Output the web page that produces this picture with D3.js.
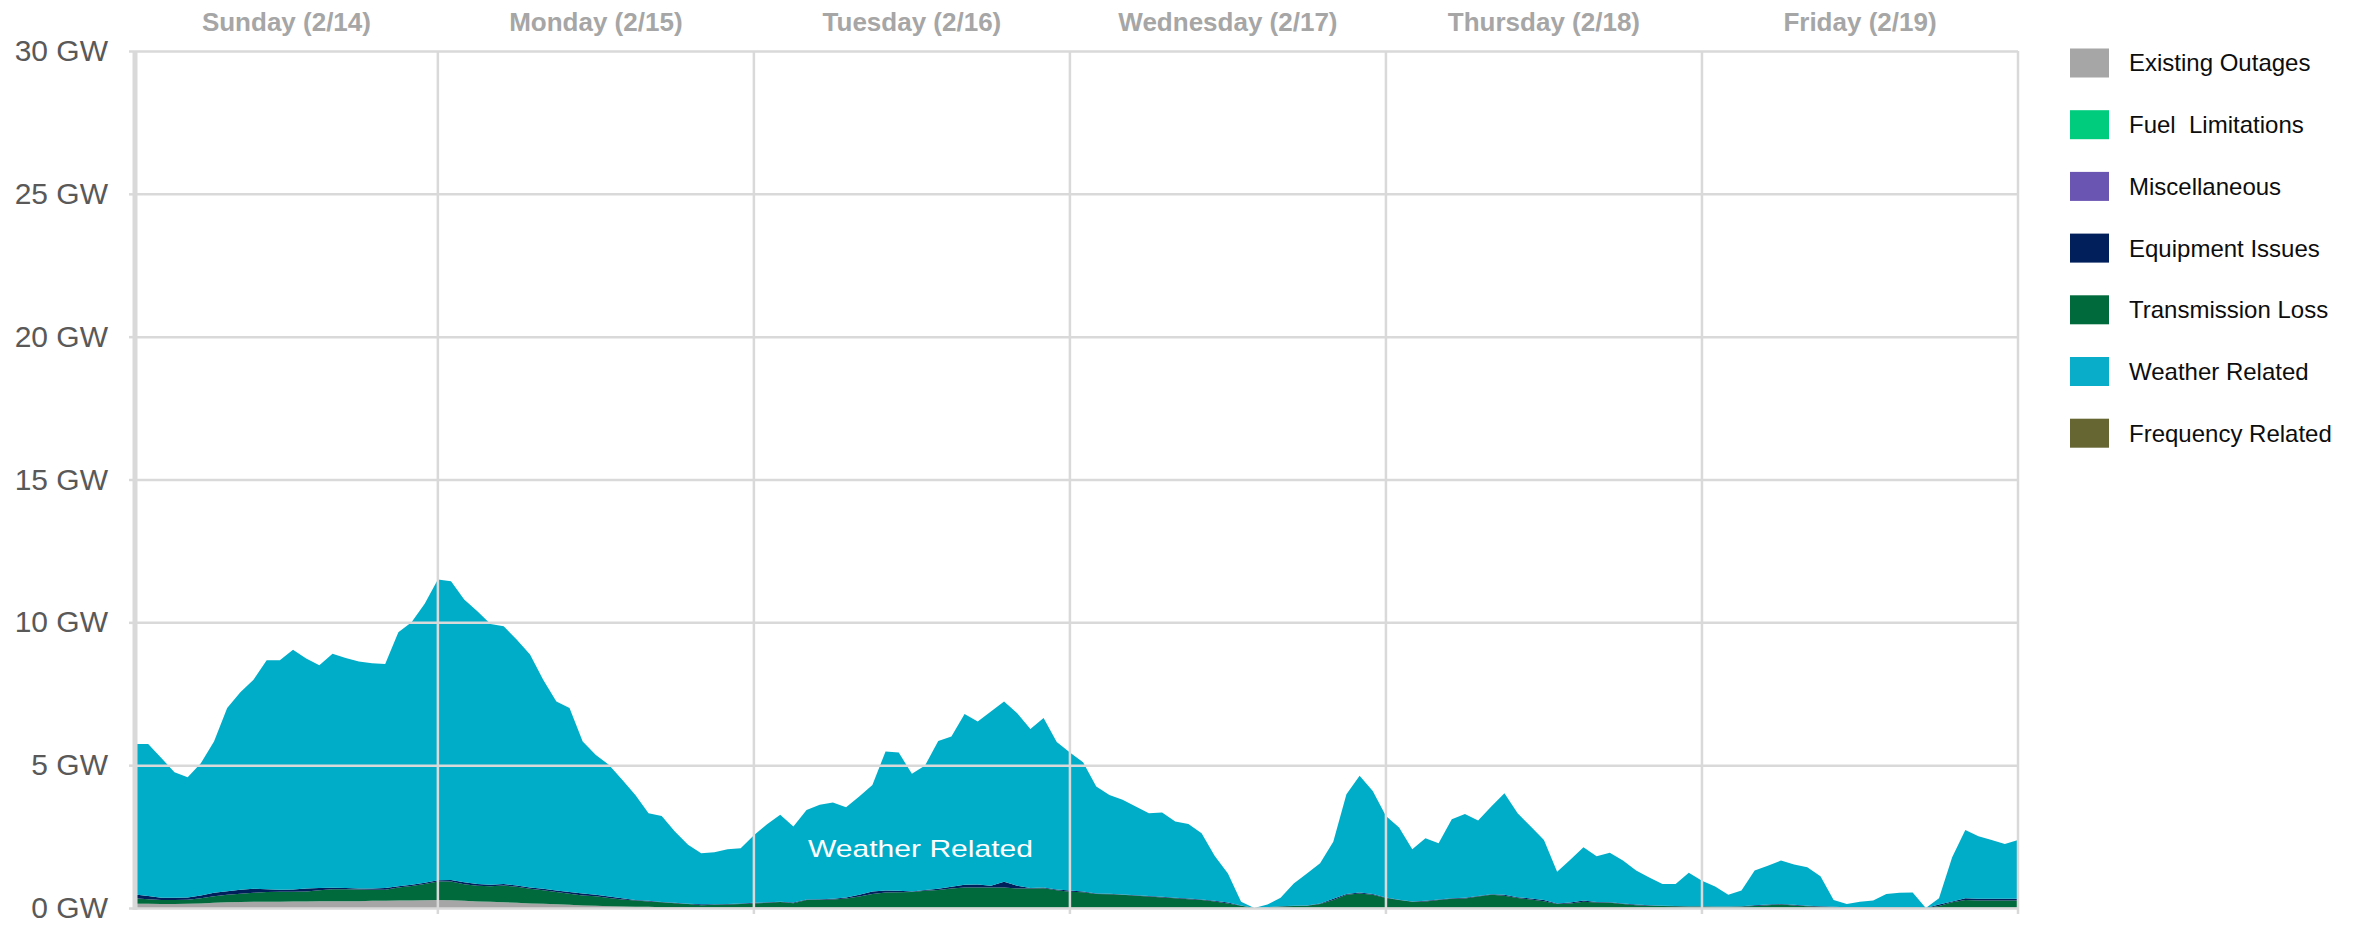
<!DOCTYPE html>
<html>
<head>
<meta charset="utf-8">
<script src="https://cdn.jsdelivr.net/npm/d3@7"></script>
<style>
  html, body { margin: 0; padding: 0; background: #fff; }
  svg { display: block; font-family: "Liberation Sans", Arial, sans-serif; }
</style>
</head>
<body>
<svg id="chart" width="2358" height="925"></svg>
<script>
// ---------- DATA ----------
// hourly samples, hour 1 .. 144 (Sun 2/14 -> Fri 2/19)
const hourIndex = d3.range(1, 145);

const dayLabels = ["Sunday (2/14)", "Monday (2/15)", "Tuesday (2/16)", "Wednesday (2/17)", "Thursday (2/18)", "Friday (2/19)"];
const dayBoundaries = [1, 24, 48, 72, 96, 120, 144];

const yTicks = [0, 5, 10, 15, 20, 25, 30];

const legendNames = ["Existing Outages", "Fuel  Limitations", "Miscellaneous", "Equipment Issues", "Transmission Loss", "Weather Related", "Frequency Related"];
const legendColors = ["#a6a6a6", "#00cc7d", "#6a55b2", "#001f5b", "#006a3d", "#0aadc9", "#666633"];

// GW
const existingOutages = [
  .15,.15,.14,.14,.15,.16,.18,.20,.21,.22,
  .22,.22,.23,.23,.24,.24,.24,.24,.25,.25,
  .26,.26,.27,.28,.27,.25,.23,.22,.20,.18,
  .16,.15,.13,.11,.09,.08,.06,.05,.04,.04,
  .03,.03,.03,.03,.03,.03,.03,.03,.03,.03,
  .02,.02,.02,.02,.02,.02,.02,.02,.02,.02,
  .02,.02,.02,.02,.02,.02,.02,.02,.02,.02,
  .02,.02,.02,.02,.02,.02,.02,.02,.02,.02,
  .02,.02,.02,.02,.02,0,.02,.02,.02,.02,
  .02,.02,.02,.02,.02,.02,.02,.02,.02,.02,
  .02,.02,.02,.02,.02,.02,.02,.02,.02,.02,
  .02,.02,.02,.02,.02,.02,.02,.02,.02,.02,
  .02,.02,.02,.02,.02,.02,.02,.02,.02,.02,
  .02,.02,.02,.02,.02,.02,0,.02,.02,.02,
  .02,.02,.02,.02
];
const transmissionLoss = [
  .19,.16,.14,.14,.14,.18,.23,.26,.29,.31,
  .34,.35,.34,.35,.38,.42,.42,.41,.39,.39,
  .46,.51,.57,.65,.66,.58,.55,.54,.59,.56,
  .51,.47,.43,.39,.35,.33,.29,.25,.22,.19,
  .17,.14,.11,.07,.08,.09,.11,.13,.15,.18,
  .15,.26,.27,.28,.31,.38,.47,.52,.53,.54,
  .58,.61,.66,.70,.70,.70,.70,.66,.66,.67,
  .60,.55,.53,.47,.46,.44,.41,.38,.35,.32,
  .29,.26,.21,.14,.06,0,0,.03,.05,.06,
  .12,.26,.44,.49,.44,.33,.26,.20,.21,.26,
  .30,.31,.38,.44,.41,.33,.28,.22,.12,.14,
  .20,.17,.16,.12,.08,.06,.05,.04,.03,.03,
  .02,.02,.03,.05,.08,.10,.07,.04,.02,.01,
  0,0,0,0,0,0,0,.05,.18,.26,
  .24,.24,.24,.24
];
const equipmentIssues = [
  .13,.11,.08,.08,.08,.10,.12,.13,.14,.14,
  .10,.07,.08,.10,.08,.05,.04,.03,.04,.06,
  .04,.04,.04,.04,.05,.07,.06,.05,.05,.05,
  .05,.05,.05,.06,.07,.05,.05,.04,.02,.02,
  .01,.01,.01,.03,.02,.02,.02,.02,.02,.01,
  .02,.02,.02,.02,.04,.06,.09,.07,.05,.02,
  .03,.04,.06,.09,.10,.06,.20,.10,.02,.03,
  .03,.04,.03,.02,.02,.01,.02,.02,.02,.02,
  .02,.02,.02,.03,.01,0,.01,.01,.01,.01,
  .02,.04,.03,.03,.03,.02,.01,.01,.02,.02,
  .02,.03,.02,.02,.03,.03,.03,.04,.02,.03,
  .04,.02,.02,.02,.02,.02,.01,.01,.01,.01,
  .01,.01,.01,.03,.02,.02,.02,.02,.02,.01,
  .01,.01,.01,.01,.01,.01,0,.05,.03,.06,
  .06,.06,.06,.06
];
const weatherRelated = [
  5.27,5.32,4.89,4.39,4.21,4.63,5.30,6.41,6.91,7.32,
  8.01,8.03,8.39,8.05,7.80,8.19,8.05,7.95,7.89,7.84,
  8.89,9.19,9.77,10.53,10.46,9.90,9.55,9.13,9.02,8.60,
  8.15,7.32,6.62,6.44,5.32,4.90,4.61,4.15,3.68,3.07,
  3.01,2.50,2.06,1.79,1.82,1.92,1.93,2.37,2.73,3.04,
  2.66,3.13,3.30,3.37,3.16,3.44,3.73,4.87,4.84,4.12,
  4.36,5.18,5.26,5.98,5.71,6.10,6.31,6.04,5.57,5.93,
  5.16,4.83,4.52,3.74,3.46,3.32,3.10,2.90,2.95,2.67,
  2.61,2.32,1.57,1.02,.13,0,.09,.30,.78,1.12,
  1.41,2.00,3.49,4.09,3.61,2.85,2.53,1.83,2.19,1.97,
  2.77,2.93,2.64,3.07,3.56,2.94,2.52,2.10,1.11,1.50,
  1.87,1.60,1.73,1.50,1.19,.97,.76,.77,1.17,.89,
  .70,.41,.55,1.21,1.36,1.52,1.41,1.35,1.05,.24,
  .11,.19,.23,.46,.50,.51,0,.22,1.55,2.39,
  2.19,2.06,1.92,2.06
];

// stacking order bottom -> top
const stackKeys = ["existing", "transmission", "equipment", "weather"];
const stackColors = {existing: "#a6a6a6", transmission: "#006a3d", equipment: "#001f5b", weather: "#00adc8"};

// ---------- BUILD ----------
const rows = hourIndex.map((h, i) => ({
  hour: h,
  existing: existingOutages[i],
  transmission: transmissionLoss[i],
  equipment: equipmentIssues[i],
  weather: weatherRelated[i]
}));

const svg = d3.select("#chart");
const plotLeft = 135, plotRight = 2018, plotTop = 51, plotBottom = 908;

const x = d3.scaleLinear().domain([1, 144]).range([plotLeft, plotRight]);
const y = d3.scaleLinear().domain([0, 30]).range([plotBottom, plotTop]);

const series = d3.stack().keys(stackKeys)(rows);
const area = d3.area()
  .x(d => x(d.data.hour))
  .y0(d => y(d[0]))
  .y1(d => y(d[1]))
  .curve(d3.curveLinear);

svg.append("g").selectAll("path")
  .data(series)
  .join("path")
  .attr("fill", d => stackColors[d.key])
  .attr("d", area);

// horizontal gridlines
const gridColor = "#d9d9d9";
const yGrid = svg.append("g")
  .attr("transform", `translate(${plotLeft},0)`)
  .call(d3.axisLeft(y).tickValues(yTicks).tickSize(-(plotRight - plotLeft)).tickFormat(""));
yGrid.select(".domain").remove();
yGrid.selectAll("line").attr("stroke", gridColor).attr("stroke-width", 2.5);

// vertical day lines
svg.append("g").selectAll("line")
  .data(dayBoundaries.slice(1))
  .join("line")
  .attr("x1", d => x(d)).attr("x2", d => x(d))
  .attr("y1", plotTop).attr("y2", plotBottom + 6)
  .attr("stroke", gridColor).attr("stroke-width", 2.5);

// y axis with labels
const yAxis = svg.append("g")
  .attr("transform", `translate(${plotLeft},0)`)
  .call(d3.axisLeft(y).tickValues(yTicks).tickSize(6).tickPadding(21).tickFormat(d => d + " GW"));
yAxis.select(".domain").attr("stroke", gridColor).attr("stroke-width", 5)
  .attr("d", `M0,${plotTop}V${plotBottom + 2}`);
yAxis.selectAll(".tick line").attr("stroke", gridColor).attr("stroke-width", 2.5);
yAxis.selectAll("text")
  .attr("fill", "#595959")
  .style("font-size", "30px")
  .style("font-family", "'Liberation Sans', Arial, sans-serif");

// day labels
svg.append("g").selectAll("text")
  .data(dayLabels)
  .join("text")
  .attr("x", (d, i) => (x(dayBoundaries[i]) + x(dayBoundaries[i + 1])) / 2)
  .attr("y", 31)
  .attr("text-anchor", "middle")
  .attr("fill", "#a6a6a6")
  .style("font-weight", "bold")
  .style("font-size", "26px")
  .text(d => d);

// in-area label
svg.append("text")
  .attr("x", 808).attr("y", 857)
  .attr("fill", "#ffffff")
  .style("font-size", "24px")
  .attr("textLength", 225)
  .attr("lengthAdjust", "spacingAndGlyphs")
  .text("Weather Related");

// legend
const legend = svg.append("g").selectAll("g")
  .data(legendNames)
  .join("g")
  .attr("transform", (d, i) => `translate(2070, ${63 + i * 61.7})`);
legend.append("rect")
  .attr("x", 0).attr("y", -14.5)
  .attr("width", 39).attr("height", 29)
  .attr("fill", (d, i) => legendColors[i]);
legend.append("text")
  .attr("x", 59).attr("y", 0)
  .attr("dy", "0.35em")
  .attr("fill", "#0d0d0d")
  .style("font-size", "24px")
  .style("white-space", "pre")
  .text(d => d);
</script>
</body>
</html>
